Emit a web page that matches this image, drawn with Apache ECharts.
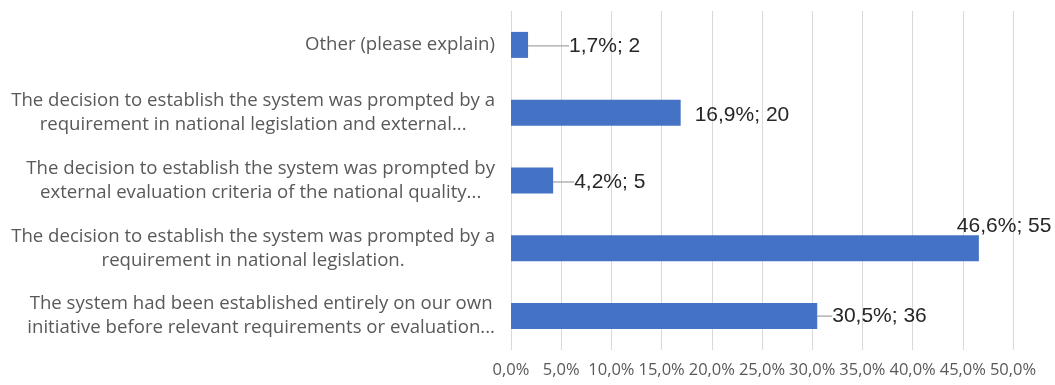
<!DOCTYPE html>
<html><head><meta charset="utf-8">
<script src="https://cdn.jsdelivr.net/npm/echarts@6/dist/echarts.min.js"></script>
<style>html,body{margin:0;padding:0;background:#fff}#c{width:1055px;height:385px}</style>
</head><body><div id="c"></div>
<script>
// ---- data ----
const categories = [
  "Other (please explain)",
  "The decision to establish the system was prompted by a\nrequirement in national legislation and external...",
  "The decision to establish the system was prompted by\nexternal evaluation criteria of the national quality...",
  "The decision to establish the system was prompted by a\nrequirement in national legislation.",
  "The system had been established entirely on our own\ninitiative before relevant requirements or evaluation..."
];
const percentValues = [1.7, 16.9, 4.2, 46.6, 30.5];
const counts = [2, 20, 5, 55, 36];
const xTickLabels = ["0,0%","5,0%","10,0%","15,0%","20,0%","25,0%","30,0%","35,0%","40,0%","45,0%","50,0%"];

// ---- label placement (style only, relative to each bar's end) ----
const labelPlacement = [
  {dx: 41, dy: 1, line: true},
  {dx: 14, dy: 3, line: false},
  {dx: 21, dy: 1.5, line: true},
  {dx: -22, dy: -22, line: false},
  {dx: 15, dy: 0, line: true}
];

const chart = echarts.init(document.getElementById('c'), null, {renderer: 'canvas'});
const fmtPct = v => v.toFixed(1).replace('.', ',') + '%';

chart.setOption({
  animation: false,
  backgroundColor: '#ffffff',
  grid: {left: 511, right: 42, top: 11, bottom: 35, containLabel: false},
  xAxis: {
    type: 'value', min: 0, max: 50, interval: 5,
    axisLine: {show: false}, axisTick: {show: false},
    splitLine: {show: true, lineStyle: {color: '#d9d9d9', width: 1}},
    axisLabel: {
      margin: 12, color: '#595959', fontFamily: 'Open Sans', fontSize: 16.5,
      hideOverlap: false,
      formatter: v => xTickLabels[Math.round(v / 5)]
    }
  },
  yAxis: {
    type: 'category', data: categories, inverse: true,
    axisLine: {show: false}, axisTick: {show: false}, splitLine: {show: false},
    axisLabel: {
      margin: 16, align: 'right',
      formatter: v => v.split('\n').map(l => '{c|' + l + '}').join('\n'),
      rich: {c: {align: 'center', fontFamily: 'Open Sans', fontSize: 18.6, color: '#595959', lineHeight: 24}}
    }
  },
  series: [{
    type: 'bar',
    barWidth: 26,
    itemStyle: {color: '#4472c4'},
    data: percentValues.map((v, i) => ({
      value: v,
      labelLine: {show: labelPlacement[i].line}
    })),
    label: {
      show: true, position: 'right', distance: 0, padding: [0, 0, 0, 2],
      fontFamily: 'Liberation Sans', fontSize: 21, color: '#262626',
      formatter: p => fmtPct(percentValues[p.dataIndex]) + '; ' + counts[p.dataIndex]
    },
    labelLine: {show: true, lineStyle: {color: '#a6a6a6', width: 1.3}},
    labelLayout: function (p) {
      const o = labelPlacement[p.dataIndex];
      return {
        x: p.rect.x + p.rect.width + o.dx - 2,
        y: p.rect.y + p.rect.height / 2 + o.dy,
        align: 'left', verticalAlign: 'middle'
      };
    }
  }]
});
</script>
</body></html>
